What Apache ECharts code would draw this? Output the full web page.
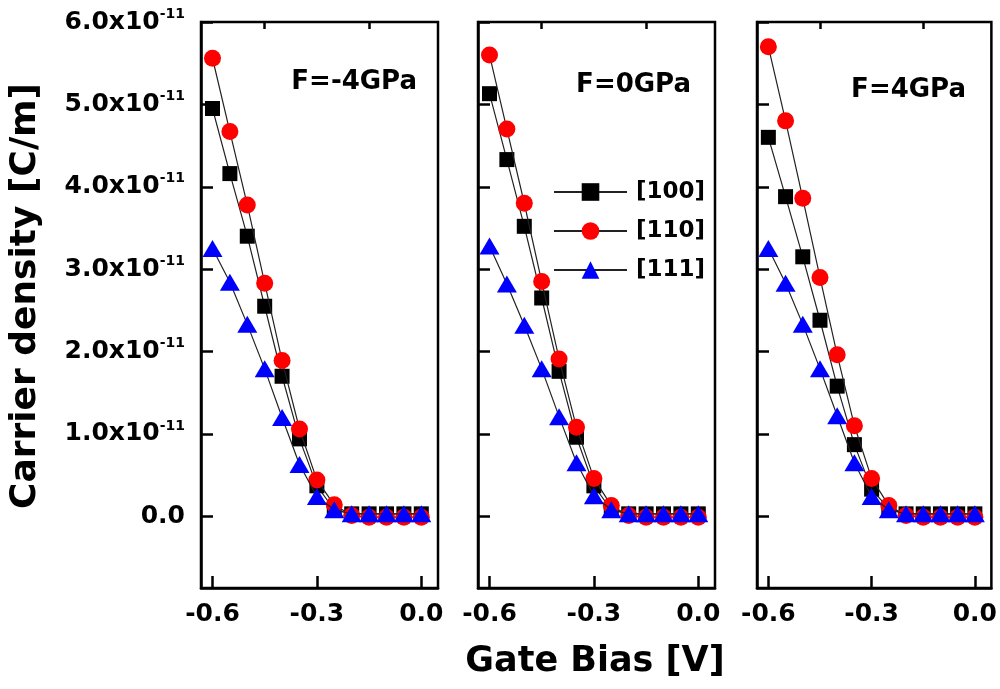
<!DOCTYPE html>
<html>
<head>
<meta charset="utf-8">
<script src="https://cdn.jsdelivr.net/npm/echarts@6/dist/echarts.min.js"></script>
<style>
html,body{margin:0;padding:0;background:#fff;}
#chart{width:1000px;height:689px;}
</style>
</head>
<body>
<div id="chart"></div>
<script>
// Gate bias values [V]
const gateBias = [-0.6,-0.55,-0.5,-0.45,-0.4,-0.35,-0.3,-0.25,-0.2,-0.15,-0.1,-0.05,0.0];
// Carrier density in units of 1e-11 C/m
const panelLabels = ['F=-4GPa','F=0GPa','F=4GPa'];
const seriesNames = ['[100]','[110]','[111]'];
const yTicks = [0,1,2,3,4,5,6];
const xMajorTicks = [-0.6,-0.3,0.0];
const xMinorTicks = [-0.45,-0.15];

const fm4_100 = [4.95,4.16,3.40,2.55,1.70,0.94,0.37,0.08,0.03,0.03,0.03,0.03,0.03];
const fm4_110 = [5.56,4.67,3.78,2.83,1.89,1.06,0.44,0.14,0.01,-0.01,-0.01,-0.01,-0.01];
const fm4_111 = [3.25,2.84,2.33,1.79,1.20,0.63,0.24,0.08,0.03,0.03,0.03,0.03,0.03];

const f0_100 = [5.13,4.33,3.52,2.65,1.76,0.96,0.37,0.08,0.03,0.03,0.03,0.03,0.03];
const f0_110 = [5.60,4.70,3.80,2.85,1.91,1.08,0.46,0.13,0.01,-0.01,-0.01,-0.01,-0.01];
const f0_111 = [3.28,2.82,2.32,1.79,1.21,0.65,0.25,0.08,0.03,0.03,0.03,0.03,0.03];

const f4_100 = [4.60,3.88,3.15,2.38,1.58,0.87,0.33,0.09,0.03,0.03,0.03,0.03,0.03];
const f4_110 = [5.70,4.80,3.86,2.90,1.96,1.10,0.46,0.13,0.01,-0.01,-0.01,-0.01,-0.01];
const f4_111 = [3.25,2.83,2.33,1.79,1.22,0.65,0.24,0.08,0.03,0.03,0.03,0.03,0.03];

const panels = [
  [fm4_100, fm4_110, fm4_111],
  [f0_100, f0_110, f0_111],
  [f4_100, f4_110, f4_111]
];

const FONT = '"DejaVu Sans", sans-serif';
const gridLefts = [201, 478, 757];
const gridW = 237;
const gridTop = 22;
const gridH = 566;
const X_MIN = -0.633, X_MAX = 0.048;
const Y_MIN = -0.87, Y_MAX = 6;

const symbolStyles = [
  {symbol:'rect', symbolSize:15, color:'#000000'},
  {symbol:'circle', symbolSize:17, color:'#ff0000'},
  {symbol:'triangle', symbolSize:[20,17], color:'#0000ff'}
];

const grids = [], xAxes = [], yAxes = [], series = [];
for (let p = 0; p < 3; p++) {
  grids.push({left:gridLefts[p], top:gridTop, width:gridW, height:gridH,
    show:true, borderColor:'#000', borderWidth:2.5, backgroundColor:'transparent'});
}
for (let p = 0; p < 3; p++) {
  xAxes.push({
    gridIndex:p, type:'value', min:X_MIN, max:X_MAX,
    axisLine:{show:true, onZero:false, lineStyle:{color:'#000', width:2.5}},
    axisTick:{show:true, inside:true, length:12, customValues:xMajorTicks, lineStyle:{color:'#000', width:2.5}},
    axisLabel:{show:true, customValues:xMajorTicks, margin:14,
      formatter:v => (Math.abs(v) < 1e-9 ? 0 : v).toFixed(1),
      fontFamily:FONT, fontWeight:'bold', fontSize:25, color:'#000'},
    splitLine:{show:false}
  });
}
for (let p = 0; p < 3; p++) {
  xAxes.push({
    gridIndex:p, type:'value', min:X_MIN, max:X_MAX,
    axisLine:{show:false, onZero:false},
    axisTick:{show:true, inside:true, length:7, customValues:xMinorTicks, lineStyle:{color:'#000', width:2.5}},
    axisLabel:{show:false},
    splitLine:{show:false}
  });
}
for (let p = 0; p < 3; p++) {
  yAxes.push({
    gridIndex:p, type:'value', min:Y_MIN, max:Y_MAX,
    axisLine:{show:true, onZero:false, lineStyle:{color:'#000', width:2.5}},
    axisTick:{show:true, inside:true, length:12, customValues:yTicks, lineStyle:{color:'#000', width:2.5}},
    axisLabel:{show:p === 0, customValues:yTicks, margin:16,
      formatter:v => v === 0 ? '{n|0.0}' : '{n|' + v.toFixed(1) + 'x10}{s|-11}',
      rich:{
        n:{fontFamily:FONT, fontWeight:'bold', fontSize:25, color:'#000', lineHeight:30},
        s:{fontFamily:FONT, fontWeight:'bold', fontSize:14, color:'#000', verticalAlign:'top', lineHeight:30, padding:[0,0,14,0]}
      }},
    splitLine:{show:false}
  });
}
for (let p = 0; p < 3; p++) {
  for (let s = 0; s < 3; s++) {
    const st = symbolStyles[s];
    series.push({
      name:seriesNames[s], type:'line', xAxisIndex:p, yAxisIndex:p,
      data:gateBias.map((x, i) => [x, panels[p][s][i]]),
      symbol:st.symbol, symbolSize:st.symbolSize, showAllSymbol:true,
      itemStyle:{color:st.color, borderWidth:0},
      lineStyle:{color:'#222', width:1.2},
      emphasis:{disabled:true}, animation:false, z:2 + s
    });
  }
}

const chart = echarts.init(document.getElementById('chart'), null, {renderer:'canvas'});
chart.setOption({
  backgroundColor:'#fff',
  animation:false,
  grid:grids, xAxis:xAxes, yAxis:yAxes, series:series,
  legend:{
    data:seriesNames, orient:'vertical', left:553, top:180, padding:0,
    itemWidth:73, itemHeight:22, itemGap:15, selectedMode:false,
    textStyle:{fontFamily:FONT, fontWeight:'bold', fontSize:23, color:'#000', lineHeight:24, padding:[0,0,0,4]}
  },
  graphic:[
    {type:'text', x:26, y:296, rotation:Math.PI/2, originX:0, originY:0,
      style:{text:'Carrier density [C/m]', font:'bold 36px ' + FONT, fill:'#000', textAlign:'center', textVerticalAlign:'middle'}},
    {type:'text', x:595, y:662,
      style:{text:'Gate Bias [V]', font:'bold 35px ' + FONT, fill:'#000', textAlign:'center', textVerticalAlign:'middle'}},
    {type:'text', x:417, y:82,
      style:{text:panelLabels[0], font:'bold 26px ' + FONT, fill:'#000', textAlign:'right', textVerticalAlign:'middle'}},
    {type:'text', x:691, y:85,
      style:{text:panelLabels[1], font:'bold 26px ' + FONT, fill:'#000', textAlign:'right', textVerticalAlign:'middle'}},
    {type:'text', x:966, y:90,
      style:{text:panelLabels[2], font:'bold 26px ' + FONT, fill:'#000', textAlign:'right', textVerticalAlign:'middle'}}
  ]
});
</script>
</body>
</html>
